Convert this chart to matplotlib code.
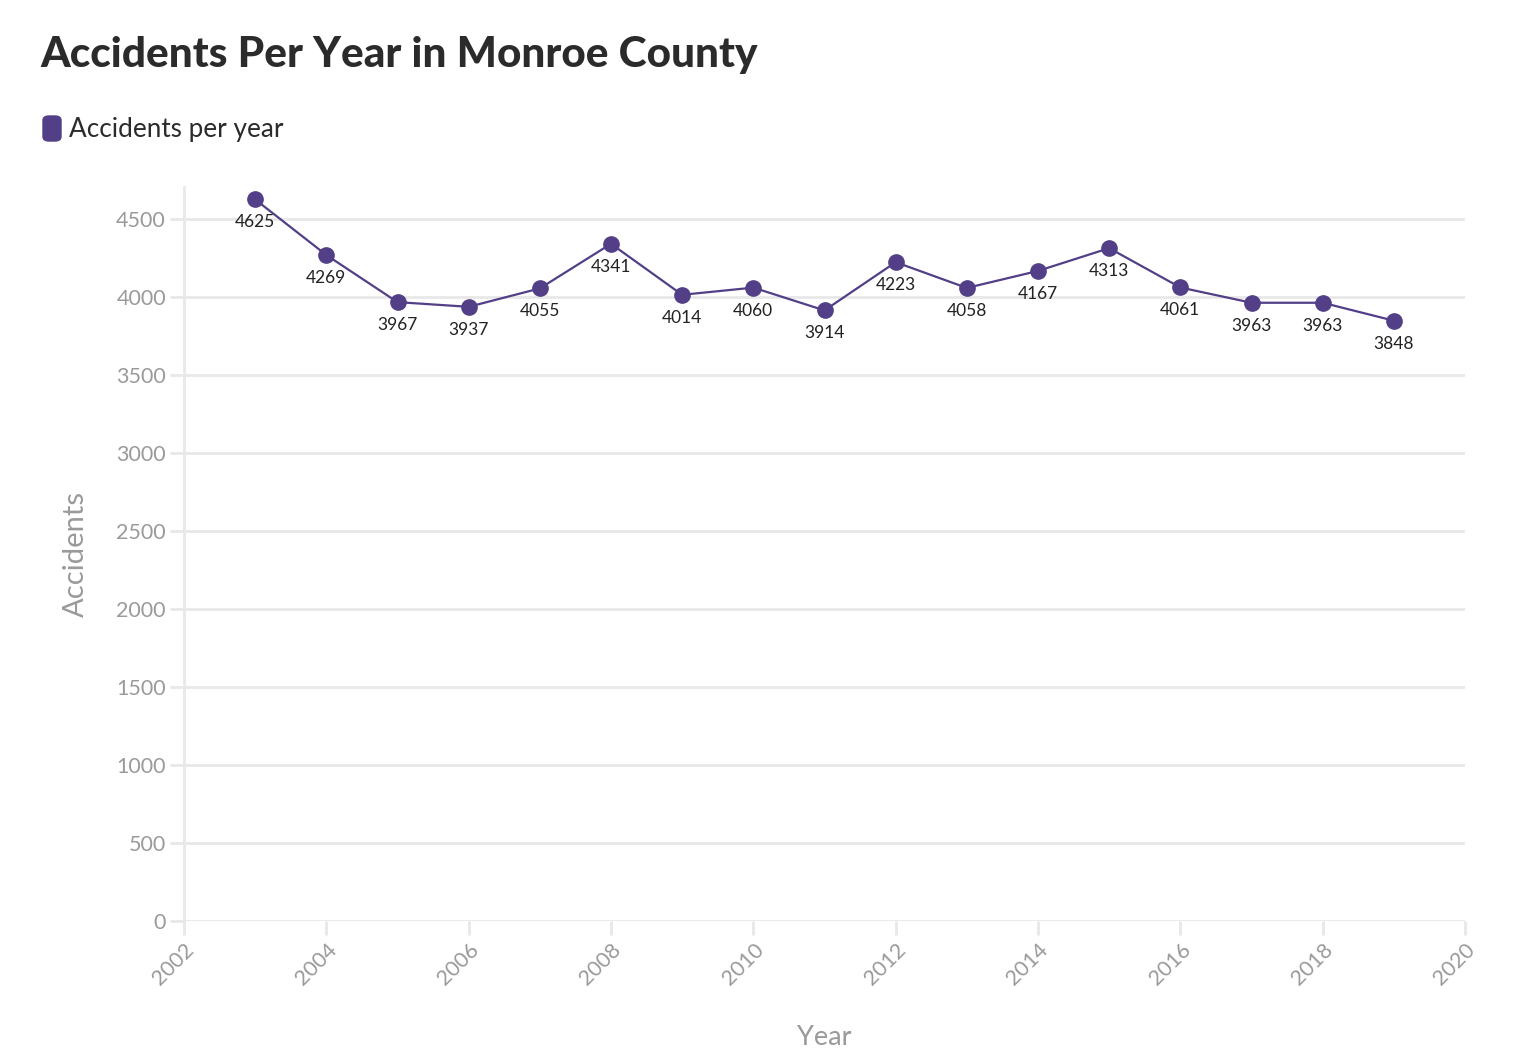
import matplotlib.pyplot as plt
from matplotlib.patches import FancyBboxPatch

years = [2003, 2004, 2005, 2006, 2007, 2008, 2009, 2010, 2011,
         2012, 2013, 2014, 2015, 2016, 2017, 2018, 2019]
accidents = [4625, 4269, 3967, 3937, 4055, 4341, 4014, 4060, 3914,
             4223, 4058, 4167, 4313, 4061, 3963, 3963, 3848]
x_ticks = list(range(2002, 2021, 2))
y_ticks = list(range(0, 4501, 500))

purple = '#523f87'
grid_c = '#e8e8e8'
tick_c = '#9a9a9a'

plt.rcParams['font.family'] = ['Lato', 'DejaVu Sans']

fig = plt.figure(figsize=(15.22, 10.6), dpi=100)
ax = fig.add_axes([184/1522, 1 - 921/1060, (1465-184)/1522, (921-187)/1060])

ax.plot(years, accidents, color=purple, lw=1.6, marker='o', ms=11, zorder=3)
for x, y in zip(years, accidents):
    ax.annotate(str(y), (x, y), xytext=(0, -16.5), textcoords='offset points',
                ha='center', va='center', fontsize=12.5, color='#222222')

ax.set_xlim(2002, 2020)
ax.set_ylim(0, 4705)
ax.set_xticks(x_ticks)
ax.set_yticks(y_ticks)
ax.grid(axis='y', color=grid_c, lw=2)
ax.set_axisbelow(True)
for s in ['top', 'right', 'bottom']:
    ax.spines[s].set_visible(False)
ax.spines['left'].set_color(grid_c)
ax.spines['left'].set_linewidth(2)
ax.tick_params(axis='both', colors=grid_c, width=2, length=10, labelcolor=tick_c, labelsize=15.5)
ax.tick_params(axis='y', pad=3)
for lbl in ax.get_xticklabels():
    lbl.set_rotation(45)
    lbl.set_ha('right')
    lbl.set_rotation_mode('anchor')

ax.set_xlabel('Year', fontsize=19.5, color=tick_c, labelpad=26)
ax.set_ylabel('Accidents', fontsize=21, color=tick_c, labelpad=20)

fig.text(40/1522, 1 - 55/1060, 'Accidents Per Year in Monroe County',
         fontsize=30.5, fontweight='black', color='#2b2b2b', va='center', ha='left')
fig.patches.append(FancyBboxPatch((43/1522, 1 - 141/1060), 18/1522, 25/1060,
                                  boxstyle='round,pad=0,rounding_size=0.004',
                                  transform=fig.transFigure, color=purple))
fig.text(69/1522, 1 - 129/1060, 'Accidents per year', fontsize=18.8,
         color='#2b2b2b', va='center', ha='left')

fig.savefig('out.png', dpi=100)
